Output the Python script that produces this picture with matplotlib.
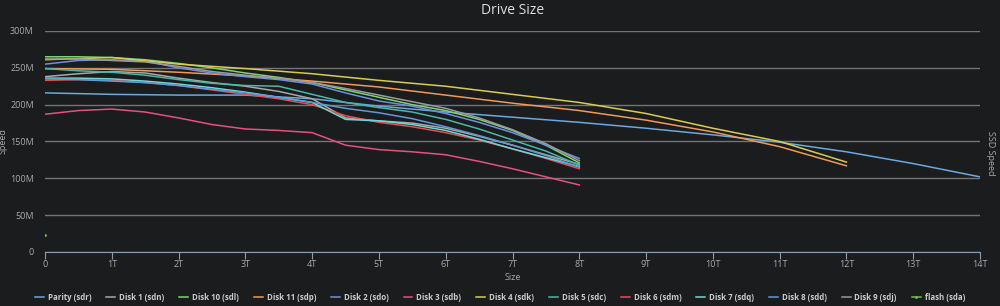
import matplotlib.pyplot as plt
import numpy as np

# x positions in TB, speeds in MB/s
x8 = [0, 0.5, 1, 1.5, 2, 2.5, 3, 3.5, 4, 4.5, 5, 5.5, 6, 6.5, 7, 7.5, 8]
x12 = [0, 1, 2, 3, 4, 5, 6, 7, 8, 9, 10, 11, 12]
x14 = [0, 1, 2, 3, 4, 5, 6, 7, 8, 9, 10, 11, 12, 13, 14]

parity = [216, 214, 213, 213, 208, 198, 190, 183, 176, 168, 159, 149, 136, 120, 102]
disk1 = [238, 242, 245, 243, 236, 230, 225, 218, 208, 182, 178, 175, 168, 157, 145, 132, 119]
disk10 = [265, 265, 264, 261, 256, 250, 243, 237, 230, 220, 210, 200, 192, 180, 165, 145, 121]
disk11 = [249, 248, 244, 239, 232, 224, 213, 202, 192, 179, 163, 143, 117]
disk2 = [255, 260, 261, 259, 250, 243, 238, 234, 228, 216, 205, 198, 188, 176, 162, 145, 127]
disk3 = [187, 192, 194, 190, 182, 173, 167, 165, 162, 145, 139, 136, 132, 123, 113, 102, 91]
disk4 = [261, 264, 255, 249, 242, 233, 225, 214, 203, 188, 168, 150, 122]
disk5 = [249, 246, 244, 240, 234, 229, 226, 225, 214, 203, 196, 190, 180, 167, 152, 137, 118]
disk6 = [233, 234, 233, 230, 226, 220, 214, 208, 200, 185, 176, 170, 162, 152, 140, 127, 113]
disk7 = [236, 236, 235, 232, 228, 223, 217, 210, 203, 180, 178, 173, 165, 153, 140, 128, 116]
disk8 = [235, 234, 232, 230, 226, 221, 216, 210, 203, 195, 189, 181, 170, 158, 145, 131, 115]
disk9 = [262, 262, 260, 258, 252, 245, 240, 236, 230, 222, 213, 204, 195, 182, 166, 147, 124]
flash_x = [0]
flash = [23]

series = [
    ("Parity (sdr)", x14, parity, "#6aa8e0"),
    ("Disk 1 (sdn)", x8, disk1, "#a8a8a8"),
    ("Disk 10 (sdl)", x8, disk10, "#7ad66a"),
    ("Disk 11 (sdp)", x12, disk11, "#f09a55"),
    ("Disk 2 (sdo)", x8, disk2, "#6f8fe0"),
    ("Disk 3 (sdb)", x8, disk3, "#e8507c"),
    ("Disk 4 (sdk)", x12, disk4, "#d8cc4c"),
    ("Disk 5 (sdc)", x8, disk5, "#46b8a8"),
    ("Disk 6 (sdm)", x8, disk6, "#e34f4f"),
    ("Disk 7 (sdq)", x8, disk7, "#6cd8d4"),
    ("Disk 8 (sdd)", x8, disk8, "#5e9ad8"),
    ("Disk 9 (sdj)", x8, disk9, "#9a9a9a"),
    ("flash (sda)", flash_x, flash, "#6cc052"),
]

bg = "#1b1c1e"
plt.rcParams['font.family'] = ['Open Sans', 'DejaVu Sans']

fig = plt.figure(figsize=(10, 3.06), dpi=100, facecolor=bg)
ax = fig.add_axes([0.045, 0.1765, 0.935, 0.7222], facecolor=bg)

for name, xs, ys, col in series:
    if len(xs) == 1:
        ax.plot(xs, ys, color=col, lw=1.1, marker='o', ms=1.0, label=name)
    else:
        ax.plot(xs, ys, color=col, lw=1.1, label=name)

ax.set_xlim(0, 14)
ax.set_ylim(0, 300)
ax.set_yticks(range(0, 301, 50))
ax.set_yticklabels(["0"] + [f"{v}M" for v in range(50, 301, 50)])
ax.set_xticks(range(0, 15))
ax.set_xticklabels(["0"] + [f"{v}T" for v in range(1, 15)])
ax.grid(axis='y', color="#747474", lw=1)
ax.set_axisbelow(True)
for s in ["top", "right", "left"]:
    ax.spines[s].set_visible(False)
ax.spines["bottom"].set_color("#8a9cb0")
ax.tick_params(axis='x', colors="#8a9cb0", length=5, labelsize=6.5, labelcolor="#aaaaaa", pad=1)
ax.tick_params(axis='y', length=0, labelsize=6.5, labelcolor="#aaaaaa", pad=8)

ax.set_title("Drive Size", color="#dddddd", fontsize=10, pad=12)
ax.set_xlabel("Size", color="#aaaaaa", fontsize=6.5, labelpad=3)
ax.set_ylabel("Speed", color="#aaaaaa", fontsize=6.5, labelpad=2)
fig.text(0.99, 0.5, "SSD Speed", rotation=-90, color="#aaaaaa", fontsize=6.5,
         ha='center', va='center')

leg = fig.legend(loc='lower center', bbox_to_anchor=(0.5, -0.01), ncol=13, frameon=False,
                 fontsize=5.7, handlelength=1.1, handletextpad=0.5, columnspacing=1.9)
for t in leg.get_texts():
    t.set_color("#cccccc")
    t.set_fontweight('bold')

fig.savefig("out.png", dpi=100, facecolor=bg)
